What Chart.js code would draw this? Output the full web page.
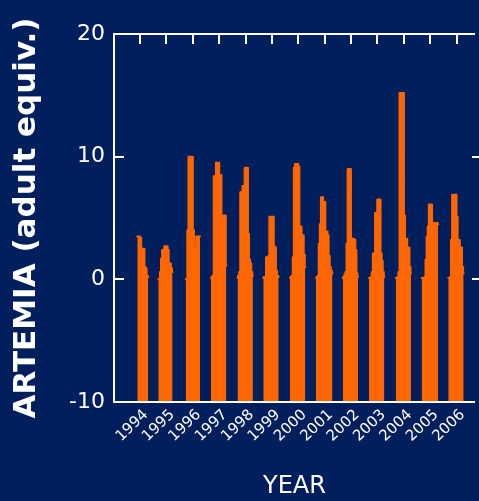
<!DOCTYPE html>
<html>
<head>
<meta charset="utf-8">
<script src="https://cdn.jsdelivr.net/npm/chart.js@4/dist/chart.umd.min.js"></script>
<style>
  html, body { margin: 0; padding: 0; background: #001f5c; overflow: hidden; }
  #wrap { width: 479px; height: 501px; position: relative; }
</style>
</head>
<body>
<div id="wrap"><canvas id="chart"></canvas></div>
<script>
// one season of samples per year, half-monthly, starting at seasonStart
const years = [1994, 1995, 1996, 1997, 1998, 1999, 2000, 2001, 2002, 2003, 2004, 2005, 2006];
const seasonStart = [1994.398, 1995.193, 1996.232, 1997.190, 1998.195, 1999.172, 2000.184,
                     2001.169, 2002.181, 2003.178, 2004.189, 2005.174, 2006.182];
const sampleStep = 1 / 24;

const a1994 = [3.5, 3.5, 3.5, 3.4, 2.5, 2.5, 2.5, 1.0, 0.9, 0.3, 0.2];
const a1995 = [0, 0, 0.6, 1.7, 2.4, 2.4, 2.7, 2.7, 2.7, 2.4, 1.3, 1.3, 0.9, 0.6];
const a1996 = [0, 0, 4.0, 10.0, 10.0, 10.0, 10.0, 4.0, 2.4, 2.4, 3.5, 3.5, 3.5, 3.5];
const a1997 = [0.1, 0.2, 0.3, 8.4, 8.4, 9.5, 9.5, 9.5, 8.5, 8.5, 5.2, 5.2, 5.2, 5.2, 1.1];
const a1998 = [0.1, 0.3, 0.6, 7.1, 7.1, 7.6, 7.6, 9.1, 9.1, 9.1, 3.7, 1.6, 1.3, 0.6, 0.3];
const a1999 = [0.1, 0.2, 0.2, 1.8, 1.8, 1.9, 5.1, 5.1, 5.1, 5.1, 2.7, 2.6, 0.7, 0.3, 0.2];
const a2000 = [0.1, 0.2, 0.3, 1.8, 9.1, 9.4, 9.4, 9.4, 9.2, 4.3, 4.3, 3.6, 3.6, 2.0, 1.0];
const a2001 = [0.1, 0.2, 0.3, 2.9, 4.5, 6.7, 6.7, 6.3, 6.3, 3.9, 3.9, 3.6, 1.9, 1.0, 0.7, 0.5];
const a2002 = [0.1, 0.2, 0.4, 0.6, 2.9, 9.0, 9.0, 9.0, 3.3, 3.3, 3.3, 3.2, 2.4, 0.5, 0.2];
const a2003 = [0.1, 0.1, 0.2, 0.6, 2.1, 2.1, 5.4, 5.4, 6.5, 6.5, 6.5, 2.1, 1.5, 0.6, 0.2];
const a2004 = [0.1, 0.1, 0.2, 0.6, 15.2, 15.2, 15.2, 15.2, 5.2, 3.3, 3.3, 2.6, 2.6, 1.0, 0.5];
const a2005 = [0.1, 0.1, 0.1, 0.2, 1.6, 3.5, 4.3, 6.1, 6.1, 6.1, 4.6, 4.6, 4.6, 4.6, 4.6, 4.5];
const a2006 = [0.1, 0.1, 0.2, 3.2, 6.9, 6.9, 6.9, 6.9, 5.1, 3.2, 3.2, 2.6, 2.6, 1.0, 0.5];

const seasons = [a1994, a1995, a1996, a1997, a1998, a1999, a2000,
                 a2001, a2002, a2003, a2004, a2005, a2006];
const yTickValues = [-10, 0, 10, 20];

const ORANGE = "#ff6600";
const WHITE = "#ffffff";

function buildPoints() {
  const pts = [];
  seasons.forEach((vals, k) => {
    vals.forEach((v, i) => pts.push({ x: seasonStart[k] + i * sampleStep, y: v }));
    // break the line between seasons
    pts.push({ x: seasonStart[k] + vals.length * sampleStep, y: null });
  });
  return pts;
}

// white frame with inward ticks, drawn over the bars
const framePlugin = {
  id: "frame",
  afterDatasetsDraw(chart) {
    const { ctx, chartArea: a, scales } = chart;
    ctx.save();
    ctx.strokeStyle = WHITE;
    ctx.lineWidth = 2;
    ctx.beginPath();
    ctx.moveTo(a.right, a.top);
    ctx.lineTo(a.left, a.top);
    ctx.lineTo(a.left, a.bottom);
    ctx.lineTo(a.right, a.bottom);
    scales.x.ticks.forEach((t) => {
      const x = Math.round(scales.x.getPixelForValue(t.value));
      ctx.moveTo(x, a.top);
      ctx.lineTo(x, a.top + 10);
    });
    scales.y.ticks.forEach((t) => {
      const y = Math.round(scales.y.getPixelForValue(t.value));
      if (t.value === -10 || t.value === 20) return;
      ctx.moveTo(a.left, y);
      ctx.lineTo(a.left + 10, y);
      ctx.moveTo(a.right - 3, y);
      ctx.lineTo(a.right + 4, y);
    });
    ctx.stroke();
    ctx.restore();
  },
};

new Chart(document.getElementById("chart"), {
  type: "line",
  data: {
    datasets: [{
      data: buildPoints(),
      stepped: "middle",
      spanGaps: false,
      borderColor: ORANGE,
      borderWidth: 2,
      borderJoinStyle: "round",
      borderCapStyle: "round",
      backgroundColor: ORANGE,
      fill: { value: -10 },
      pointRadius: 0,
    }],
  },
  options: {
    responsive: true,
    maintainAspectRatio: false,
    animation: false,
    devicePixelRatio: 1,
    layout: { padding: { left: 0, right: 4, top: 34, bottom: 0 } },
    plugins: { legend: { display: false }, tooltip: { enabled: false } },
    scales: {
      x: {
        type: "linear",
        min: 1993.515,
        max: 2007.195,
        afterBuildTicks: (s) => { s.ticks = years.map((y) => ({ value: y + 0.5 })); },
        afterFit: (s) => { s.height = 99; },
        grid: { display: false, drawTicks: false },
        border: { display: false },
        ticks: {
          color: WHITE,
          font: { family: "DejaVu Sans", size: 15 },
          minRotation: 44,
          maxRotation: 44,
          autoSkip: false,
          padding: 4,
          labelOffset: 6,
          callback: (v, i) => String(years[i]),
        },
        title: {
          display: true,
          text: "YEAR",
          color: WHITE,
          font: { family: "DejaVu Sans", size: 24 },
          padding: { top: 0, bottom: 0 },
        },
      },
      y: {
        min: -10,
        max: 20,
        afterBuildTicks: (s) => { s.ticks = yTickValues.map((v) => ({ value: v })); },
        afterFit: (s) => { s.width = 114; },
        grid: { display: false, drawTicks: false },
        border: { display: false },
        ticks: {
          color: WHITE,
          font: { family: "DejaVu Sans", size: 22 },
          padding: 9,
        },
        title: {
          display: true,
          text: "ARTEMIA (adult equiv.)",
          color: WHITE,
          font: { family: "DejaVu Sans", size: 31, weight: "bold" },
          padding: { top: 8, bottom: 0 },
        },
      },
    },
  },
  plugins: [framePlugin],
});
</script>
</body>
</html>
